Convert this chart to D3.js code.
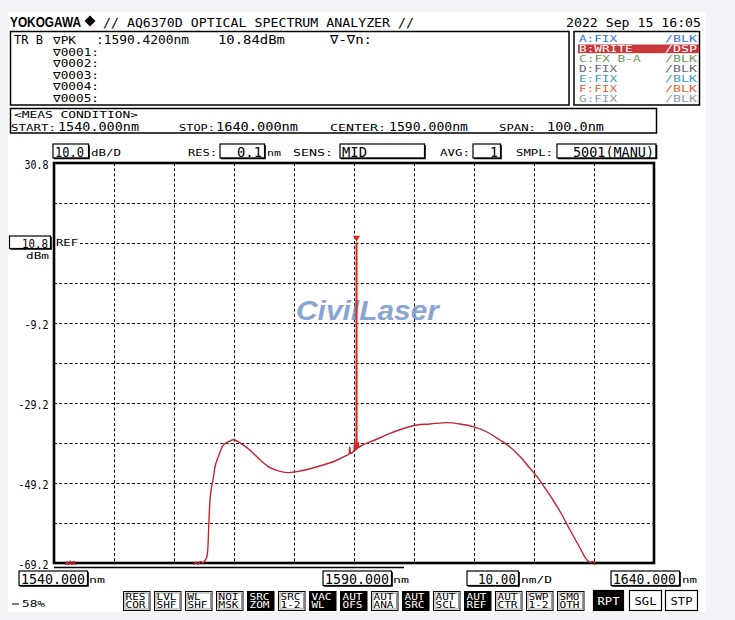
<!DOCTYPE html>
<html><head><meta charset="utf-8">
<script src="https://cdn.jsdelivr.net/npm/d3@7"></script>
<style>html,body{margin:0;padding:0;background:#f2f3f7;}svg{display:block;}</style>
</head><body>
<script>
// ---------- data ----------
const traceWl = [1540.0,1541.8,1542.0,1542.2,1542.4,1542.7,1543.0,1543.3,1543.6,1543.8,1562.5,1563.2,1563.6,1564.0,1564.4,1564.8,1565.2,1565.5,1565.67,1565.83,1566.0,1566.33,1566.5,1566.83,1567.17,1567.67,1568.0,1568.67,1569.33,1569.83,1570.5,1571.33,1572.67,1574.0,1575.5,1577.0,1578.83,1581.0,1583.0,1584.83,1586.83,1588.5,1589.2,1589.3,1589.4,1590.0,1590.1,1590.2,1590.40,1590.42,1590.44,1590.6,1590.7,1590.8,1591.0,1593.5,1596.0,1598.5,1600.5,1602.67,1605.5,1607.67,1609.83,1612.17,1614.33,1616.0,1617.67,1619.0,1620.5,1621.83,1623.17,1624.67,1626.0,1627.67,1628.83,1629.4,1629.8,1630.3,1631.0,1640.0];
const traceDb = [-80,-80,-69.6,-68.9,-69.8,-68.7,-69.7,-68.8,-69.9,-80,-80,-69.8,-69.0,-69.5,-68.8,-69.2,-68.5,-67.5,-64.7,-58.5,-53.5,-49.7,-48.4,-45.2,-43.5,-41.5,-40.2,-39.2,-38.7,-38.4,-38.7,-39.5,-41.0,-42.9,-44.9,-46.0,-46.6,-46.2,-45.5,-44.7,-43.7,-42.5,-41.9,-40.2,-41.8,-41.2,-38.6,-41.0,-40.8,10.84,-40.6,-40.5,-39.0,-40.3,-40.1,-38.45,-36.8,-35.45,-34.7,-34.45,-34.1,-34.45,-35.1,-36.45,-38.45,-40.2,-42.6,-44.95,-47.6,-50.45,-53.45,-57.2,-60.95,-65.45,-68.45,-69.0,-68.8,-70.5,-80,-80];
const peakWl = 1590.42, peakDb = 10.84;
const yLabelVals = [30.8, 10.8, -9.2, -29.2, -49.2, -69.2];
const gridDb = [20.8, 10.8, 0.8, -9.2, -19.2, -29.2, -39.2, -49.2, -59.2];
const gridWl = [1550,1560,1570,1580,1590,1600,1610,1620,1630];
const legendLeft = ['A:FIX','B:WRITE','C:FX B-A','D:FIX','E:FIX','F:FIX','G:FIX'];
const legendRight = ['/BLK','/DSP','/BLK','/BLK','/BLK','/BLK','/BLK'];
const legendColors = ['#2a74d9','#ffffff','#6b9a58','#66667a','#3a9fc0','#e8622f','#8a9cab'];
const btnTop = ['RES','LVL','WL','NOI','SRC','SRC','VAC','AUT','AUT','AUT','AUT','AUT','AUT','SWP','SMO'];
const btnBot = ['COR','SHF','SHF','MSK','ZOM','1-2','WL','OFS','ANA','SRC','SCL','REF','CTR','1-2','OTH'];
const btnDark = [0,0,0,0,1,0,1,1,0,1,0,1,0,0,0];
const bigBtns = ['RPT','SGL','STP'];
const bigDark = [1,0,0];

// ---------- setup ----------
const W = 735, H = 620;
const MONO = "'DejaVu Sans Mono', monospace";
const SANS = "'Liberation Sans', Arial, sans-serif";
const svg = d3.select('body').append('svg').attr('width', W).attr('height', H);
svg.append('rect').attr('width', W).attr('height', H).attr('fill', '#f2f3f7');
svg.append('rect').attr('x', 8).attr('y', 12).attr('width', 698).attr('height', 600).attr('fill', '#fff');

function T(x, y, s, o = {}) {
  const t = svg.append('text').attr('x', x).attr('y', y).text(s)
    .attr('font-family', o.ff || MONO).attr('font-size', o.fs || 13)
    .attr('fill', o.fill || '#000');
  if (o.anchor) t.attr('text-anchor', o.anchor);
  if (o.fw) t.attr('font-weight', o.fw);
  if (o.fst) t.attr('font-style', o.fst);
  if (o.w) t.attr('textLength', o.w).attr('lengthAdjust', o.adj || 'spacingAndGlyphs');
  if (o.op) t.attr('opacity', o.op);
  return t;
}
function box(x, y, w, h, shadow) {
  svg.append('rect').attr('x', x + 0.5).attr('y', y + 0.5).attr('width', w).attr('height', h)
    .attr('fill', '#fff').attr('stroke', '#000').attr('stroke-width', 1.2);
  if (shadow) {
    svg.append('path').attr('d', `M${x + w + 1},${y + 1.5}V${y + h + 1}H${x + 1.5}`)
      .attr('fill', 'none').attr('stroke', '#000').attr('stroke-width', 1.6);
  }
}
const SMALL = { fs: 9.5 };
const BIG = { fs: 13.5 };
const MID = { fs: 12.5 };

// ---------- header ----------
T(10, 27, 'YOKOGAWA', { ff: SANS, fs: 15, fw: 'bold', w: 71 });
svg.append('path').attr('d', 'M90,15.5L95.5,21L90,26.5L84.5,21Z').attr('fill', '#000');
T(103, 27, '// AQ6370D OPTICAL SPECTRUM ANALYZER //', { fs: 13, w: 311 });
T(566, 27, '2022 Sep 15 16:05', { fs: 13, w: 135 });

// top marker box
svg.append('rect').attr('x', 10.5).attr('y', 31.5).attr('width', 558.5).attr('height', 73.5)
  .attr('fill', 'none').attr('stroke', '#000').attr('stroke-width', 1.5);
T(14, 43.5, 'TR B', { fs: 12.5, w: 29 });
T(53, 43.5, '\u2207PK', { fs: 10, w: 23 });
T(96, 43.5, ':1590.4200nm', { fs: 12.5, w: 93 });
T(218, 43.5, '10.84dBm', { fs: 12.5, w: 67 });
T(330, 43.5, '\u2207-\u2207n:', { fs: 12.5, w: 42 });
['\u22070001:', '\u22070002:', '\u22070003:', '\u22070004:', '\u22070005:'].forEach((s, i) => {
  T(53, 55.5 + i * 11.6, s, { fs: 10, w: 46 });
});

// legend box
svg.append('rect').attr('x', 574).attr('y', 31.5).attr('width', 125.5).attr('height', 73.5)
  .attr('fill', 'none').attr('stroke', '#000').attr('stroke-width', 1.5);
svg.append('rect').attr('x', 578).attr('y', 44.5).attr('width', 121).attr('height', 8.7).attr('fill', '#c8393b');
legendLeft.forEach((s, i) => {
  const yb = 42 + i * 10;
  T(579, yb, s, { fs: 9.2, fill: legendColors[i], w: s.length * 7.9 - 1.5 });
  T(665, yb, legendRight[i], { fs: 9.2, fill: legendColors[i], w: 32 });
});

// meas condition
svg.append('rect').attr('x', 10.5).attr('y', 108.5).attr('width', 646).attr('height', 24.5)
  .attr('fill', 'none').attr('stroke', '#000').attr('stroke-width', 1.5);
T(14, 117.5, '<MEAS CONDITION>', { fs: 8.5, w: 124 });
T(11, 131, 'START:', { ...SMALL, w: 45 });
T(58, 131, '1540.000nm', { ...MID, w: 81 });
T(179, 131, 'STOP:', { ...SMALL, w: 36 });
T(216, 131, '1640.000nm', { ...MID, w: 82 });
T(330, 131, 'CENTER:', { ...SMALL, w: 56 });
T(389, 131, '1590.000nm', { ...MID, w: 79 });
T(499, 131, 'SPAN:', { ...SMALL, w: 37 });
T(547, 131, '100.0nm', { ...MID, w: 57 });

// settings row
box(52.5, 143.5, 35.5, 14, true);
T(55, 156.5, '10.0', { fs: 14, w: 29 });
T(91, 156, 'dB/D', { ...SMALL, w: 30 });
T(188, 156, 'RES:', { ...SMALL, w: 29 });
box(219.5, 143.5, 44.5, 14, true);
T(262, 156.5, '0.1', { fs: 14, w: 25, anchor: 'end' });
T(267, 156, 'nm', { ...SMALL, w: 14 });
T(293, 156, 'SENS:', { ...SMALL, w: 40 });
box(339.5, 143.5, 84.5, 14, true);
T(342, 156.5, 'MID', { fs: 14, w: 25 });
T(440, 156, 'AVG:', { ...SMALL, w: 30 });
box(472.5, 143.5, 27.5, 14, true);
T(498, 156.5, '1', { fs: 14, w: 8, anchor: 'end' });
T(516, 156, 'SMPL:', { ...SMALL, w: 37 });
box(556.5, 143.5, 99, 14, true);
T(654, 156.5, '5001(MANU)', { fs: 14, w: 81, anchor: 'end' });

// ---------- plot ----------
const x = d3.scaleLinear().domain([1540, 1640]).range([54, 654]);
const y = d3.scaleLinear().domain([-69.2, 30.8]).range([563, 163]);

const grid = svg.append('g').attr('stroke', '#000').attr('stroke-width', 1).attr('stroke-dasharray', '3,2.2');
grid.selectAll('.gx').data(gridWl).join('line')
  .attr('x1', d => Math.round(x(d)) + 0.5).attr('x2', d => Math.round(x(d)) + 0.5)
  .attr('y1', 163).attr('y2', 563);
grid.selectAll('.gy').data(gridDb).join('line')
  .attr('y1', d => Math.round(y(d)) + 0.5).attr('y2', d => Math.round(y(d)) + 0.5)
  .attr('x1', 54).attr('x2', 654);

// y axis labels
const yAxis = d3.axisLeft(y).tickValues(yLabelVals).tickSize(0).tickPadding(5.5)
  .tickFormat(d => d.toFixed(1));
const ya = svg.append('g').attr('transform', 'translate(54,0)').call(yAxis);
ya.select('.domain').remove();
ya.selectAll('text').attr('font-family', MONO).attr('font-size', 12.5).attr('fill', '#000')
  .attr('dy', '5px')
  .attr('textLength', d => d.toFixed(1).length * 6)
  .attr('lengthAdjust', 'spacingAndGlyphs')
  .filter(d => d === 10.8).remove();

// REF box
box(9, 235.5, 41, 12.5, true);
T(48, 247.5, '10.8', { fs: 13, w: 26, anchor: 'end' });
svg.append('rect').attr('x', 55).attr('y', 238).attr('width', 25).attr('height', 9).attr('fill', '#fff');
T(56, 246, 'REF', { fs: 8.5, w: 22 });
T(26, 259, 'dBm', { fs: 8.5, w: 23 });

// watermark
T(296, 320, 'CivilLaser', { ff: SANS, fs: 27, fw: 'bold', fst: 'italic', fill: '#7597cc', w: 143, op: 0.85 });

// frame
svg.append('rect').attr('x', 54).attr('y', 163).attr('width', 600).attr('height', 400)
  .attr('fill', 'none').attr('stroke', '#000').attr('stroke-width', 2.6);

// trace
svg.append('clipPath').attr('id', 'clip').append('rect')
  .attr('x', 54).attr('y', 160).attr('width', 601).attr('height', 405);
const pts = traceWl.map((w, i) => [w, traceDb[i]]);
const line = d3.line().x(d => x(d[0])).y(d => y(d[1])).curve(d3.curveMonotoneX);
svg.append('path').datum(pts).attr('d', line).attr('clip-path', 'url(#clip)')
  .attr('fill', 'none').attr('stroke', '#c0262f').attr('stroke-width', 1.4).attr('stroke-linejoin', 'round');
// peak marker
const px = x(peakWl), py = y(peakDb);
svg.append('line').attr('x1', px).attr('x2', px).attr('y1', py).attr('y2', y(-40.6))
  .attr('stroke', '#de2a20').attr('stroke-width', 1.8);
svg.append('path').attr('d', `M${px - 3.5},${py - 7}H${px + 3.5}L${px},${py - 1}Z`).attr('fill', '#e8201c');

// progress line
svg.append('line').attr('x1', 54).attr('x2', 404).attr('y1', 567.5).attr('y2', 567.5)
  .attr('stroke', '#000').attr('stroke-width', 1.3);

// bottom row
box(18.5, 570.5, 68.5, 14.5, true);
T(21, 583.5, '1540.000', { ...BIG, w: 64 });
T(89, 583, 'nm', { ...SMALL, w: 16 });
box(322.5, 570.5, 68.5, 14.5, true);
T(325, 583.5, '1590.000', { ...BIG, w: 64 });
T(393, 583, 'nm', { ...SMALL, w: 16 });
box(466.5, 570.5, 51.5, 14.5, true);
T(516, 583.5, '10.00', { ...BIG, w: 38, anchor: 'end' });
T(521, 583, 'nm/D', { ...SMALL, w: 31 });
box(610.5, 570.5, 68.5, 14.5, true);
T(613, 583.5, '1640.000', { ...BIG, w: 63 });
T(682, 583, 'nm', { ...SMALL, w: 15 });

// sweep progress
svg.append('line').attr('x1', 12).attr('x2', 19).attr('y1', 604).attr('y2', 604).attr('stroke', '#000').attr('stroke-width', 1);
T(22, 607, '58%', { fs: 8.5, w: 23 });

// buttons
const bx = d3.scaleLinear().domain([0, 1]).range([123, 154]);
btnTop.forEach((s, i) => {
  const x0 = bx(i), dark = btnDark[i];
  svg.append('rect').attr('x', x0 + 0.5).attr('y', 591.5).attr('width', 26.5).attr('height', 19)
    .attr('fill', dark ? '#000' : '#fff').attr('stroke', '#000').attr('stroke-width', 1);
  if (!dark) svg.append('rect').attr('x', x0 + 2).attr('y', 593).attr('width', 23.5).attr('height', 16)
    .attr('fill', 'none').attr('stroke', '#000').attr('stroke-width', 0.4);
  const c = dark ? '#fff' : '#000';
  T(x0 + 2.5, 599.5, s, { fs: 8, fill: c, w: s.length * 7 - 1 });
  T(x0 + 2.5, 607.8, btnBot[i], { fs: 8, fill: c, w: btnBot[i].length * 7 - 1 });
});
const bigX = [593, 629, 665];
bigBtns.forEach((s, i) => {
  const dark = bigDark[i];
  svg.append('rect').attr('x', bigX[i] + 0.5).attr('y', 590.5).attr('width', i === 0 ? 30 : 32).attr('height', 20)
    .attr('fill', dark ? '#000' : '#fff').attr('stroke', '#000').attr('stroke-width', 1.2);
  T(bigX[i] + (i === 0 ? 15.5 : 16.5), 604.5, s, { fs: 10, fill: dark ? '#fff' : '#000', anchor: 'middle', w: 22 });
});
</script>
</body></html>
